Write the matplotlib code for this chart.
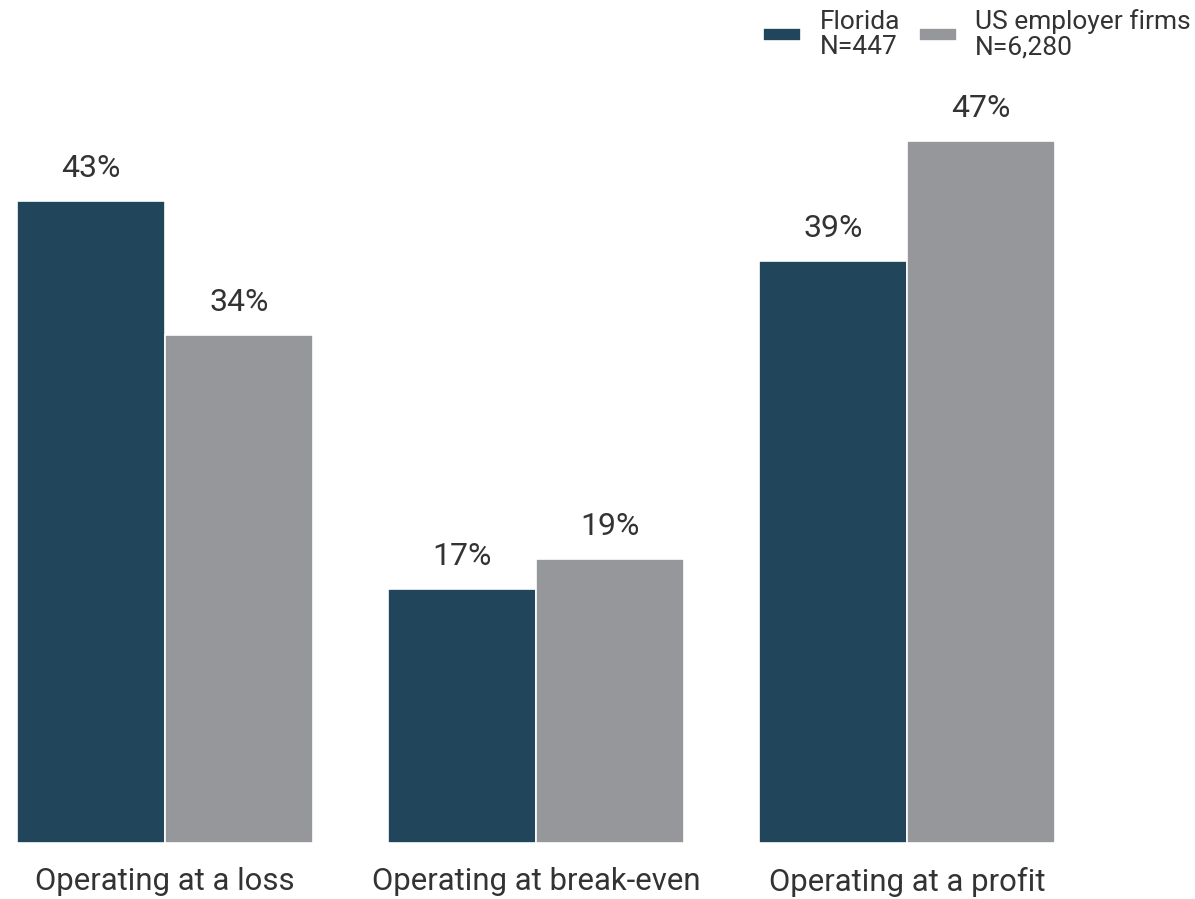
import numpy as np
import matplotlib.pyplot as plt

# ----------------------------
# Dados
# ----------------------------
categorias = ['Operating at a loss', 'Operating at break-even', 'Operating at a profit']
florida = [43, 17, 39]
us_firms = [34, 19, 47]
rotulos = ['Florida\nN=447', 'US employer firms\nN=6,280']

cor_fl = '#21465c'
cor_us = '#96979b'
cor_texto = '#333333'

plt.rcParams['font.family'] = ['Roboto', 'DejaVu Sans']

fig = plt.figure(figsize=(11.95, 8.99), dpi=100)
ax = fig.add_axes([0, 56 / 899, 1, 843 / 899])

x = np.arange(len(categorias))
w = 0.398

b1 = ax.bar(x - w / 2, florida, w, color=cor_fl, edgecolor='white', linewidth=1.2, label=rotulos[0])
b2 = ax.bar(x + w / 2, us_firms, w, color=cor_us, edgecolor='white', linewidth=1.2, label=rotulos[1])

for barras in (b1, b2):
    for b in barras:
        ax.annotate(f'{b.get_height():.0f}%', (b.get_x() + b.get_width() / 2, b.get_height()),
                    xytext=(0, 13), textcoords='offset points', ha='center', va='bottom',
                    fontsize=23, color=cor_texto)

# limites para casar com a imagem de referência
ax.set_xlim(-165 / 371, (1195 - 165) / 371)
ax.set_ylim(0, 843 / 14.93)

ax.set_xticks(x)
ax.set_xticklabels(categorias, fontsize=22.4, color=cor_texto)
ax.tick_params(axis='x', length=0, pad=17)
ax.set_yticks([])
for s in ax.spines.values():
    s.set_visible(False)

leg = fig.legend(loc='upper right', bbox_to_anchor=(1.0165, 1.016), ncol=2, frameon=False,
                 fontsize=19, handlelength=1.45, handleheight=0.4, handletextpad=0.7,
                 columnspacing=0.7, labelspacing=0.2)
for t in leg.get_texts():
    t.set_color(cor_texto)
    t.set_linespacing(1.05)

fig.savefig('out.png', dpi=100)
